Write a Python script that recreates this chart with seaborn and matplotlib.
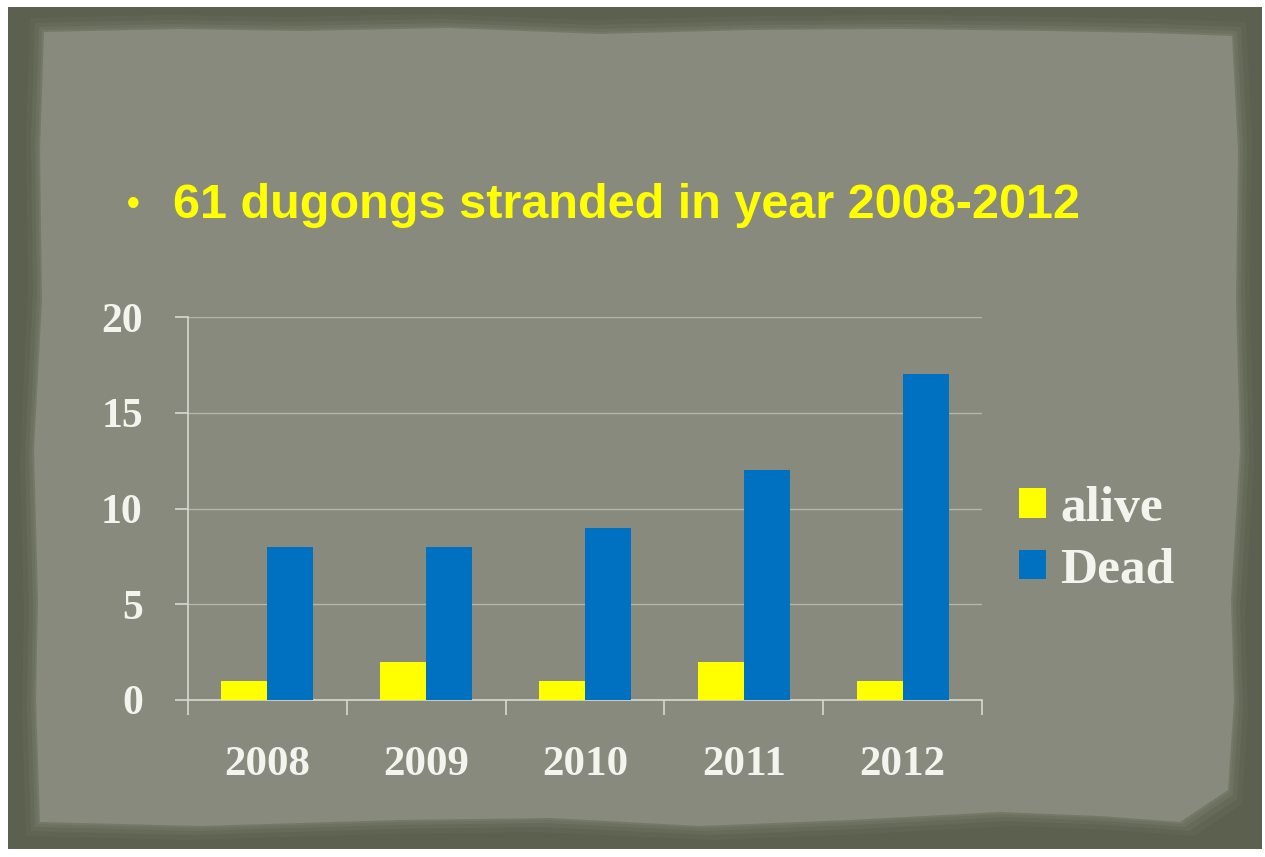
import matplotlib
matplotlib.use("Agg")
import matplotlib.pyplot as plt
from matplotlib.patches import Polygon, Rectangle, Patch
import pandas as pd
import seaborn as sns

# Stranding counts per year
years = ["2008", "2009", "2010", "2011", "2012"]
alive = [1, 2, 1, 2, 1]
dead = [8, 8, 9, 12, 17]
series_names = ["alive", "Dead"]
y_ticks = [0, 5, 10, 15, 20]
title_text = "61 dugongs stranded in year 2008-2012"
colors = ["#ffff00", "#0070c0"]

df = pd.DataFrame({
    "year": years * 2,
    "count": alive + dead,
    "status": [series_names[0]] * len(years) + [series_names[1]] * len(years),
})

sns.set_theme(style="white")
W, H = 1265, 857
fig = plt.figure(figsize=(W / 100, H / 100), dpi=100)
fig.patch.set_facecolor("white")

# slide backdrop: dark frame with a lighter paper panel
def px_rect(x0, y0, x1, y1, **kw):
    return Rectangle((x0 / W, 1 - y1 / H), (x1 - x0) / W, (y1 - y0) / H,
                     transform=fig.transFigure, **kw)

fig.patches.append(px_rect(8, 7, 1262, 849, facecolor="#5b604f", edgecolor="none", zorder=0))
panel_pts = [(44, 32), (180, 29), (300, 31), (450, 28), (600, 34), (750, 30), (900, 29),
             (1050, 31), (1150, 33), (1232, 36), (1238, 150), (1236, 300), (1240, 450),
             (1231, 600), (1234, 700), (1228, 790), (1180, 822), (1100, 816), (1000, 812),
             (850, 820), (700, 826), (550, 818), (400, 820), (200, 826), (40, 822),
             (36, 700), (38, 600), (34, 450), (42, 300), (40, 150)]
cx, cy = 636, 428
for grow, alpha in [(14, 0.15), (9, 0.25), (5, 0.35), (2, 0.5)]:
    pts = [((x + (grow if x > cx else -grow)) / W, 1 - (y + (grow if y > cy else -grow)) / H)
           for x, y in panel_pts]
    fig.patches.append(Polygon(pts, closed=True, transform=fig.transFigure,
                               facecolor="#7b806e", edgecolor="none", alpha=alpha, zorder=0.5))
fig.patches.append(Polygon([(x / W, 1 - y / H) for x, y in panel_pts], closed=True,
                           transform=fig.transFigure, facecolor="#878a7c",
                           edgecolor="none", zorder=1))

# title bullet line
fig.text(133 / W, 1 - 205 / H, "\u2022", color="#ffff00", fontsize=26,
         fontweight="bold", family="Liberation Sans", ha="center", va="center", zorder=5)
fig.text(173 / W, 1 - 205 / H, title_text, color="#ffff00", fontsize=35,
         fontweight="bold", family="Liberation Sans", ha="left", va="center", zorder=5)

ax = fig.add_axes([188 / W, 157 / H, (982 - 188) / W, (700 - 317) / H])
ax.set_facecolor("none")
ax.set_zorder(3)

sns.barplot(data=df, x="year", y="count", hue="status", order=years,
            hue_order=series_names, palette=colors, width=0.58, gap=0,
            saturation=1, linewidth=0, edgecolor="none", ax=ax, legend=False, zorder=3)

ax.set_xlim(-0.5, len(years) - 0.5)
ax.set_ylim(0, 20)
ax.set_yticks(y_ticks)
ax.grid(axis="y", color="#c4c6bc", linewidth=1, alpha=0.75, zorder=1)
ax.set_axisbelow(True)
for side in ["top", "right"]:
    ax.spines[side].set_visible(False)
for side in ["left", "bottom"]:
    ax.spines[side].set_color("#d8d9d2")
    ax.spines[side].set_linewidth(1.2)

ytick_font = dict(family="Liberation Serif", weight="bold", size=30)
xtick_font = dict(family="Liberation Serif", weight="bold", size=31)
ax.set_yticklabels([str(t) for t in y_ticks], color="#f4f4ef", **ytick_font)
ax.tick_params(axis="y", left=True, length=9.5, width=1.2, color="#d8d9d2", pad=23)

# category labels centred, tick marks on category boundaries
ax.set_xticks(range(len(years)))
ax.set_xticklabels(years, color="#f4f4ef", **xtick_font)
ax.tick_params(axis="x", which="major", bottom=False, length=0, pad=33)
ax.set_xticks([i - 0.5 for i in range(len(years) + 1)], minor=True)
ax.tick_params(axis="x", which="minor", bottom=True, length=11, width=1.2, color="#d8d9d2")
ax.set_xlabel("")
ax.set_ylabel("")

# legend to the right of the plot
handles = [Patch(facecolor=c, edgecolor="none") for c in colors]
leg = fig.legend(handles, series_names, loc="center left",
                 bbox_to_anchor=(973 / W, 1 - 540 / H), frameon=False,
                 prop=dict(family="Liberation Serif", weight="bold", size=37),
                 labelcolor="#f4f4ef", handlelength=0.52, handleheight=0.52,
                 handletextpad=0.28, labelspacing=0.3)
leg.set_zorder(6)

fig.savefig("out.png", dpi=100, facecolor=fig.get_facecolor())
